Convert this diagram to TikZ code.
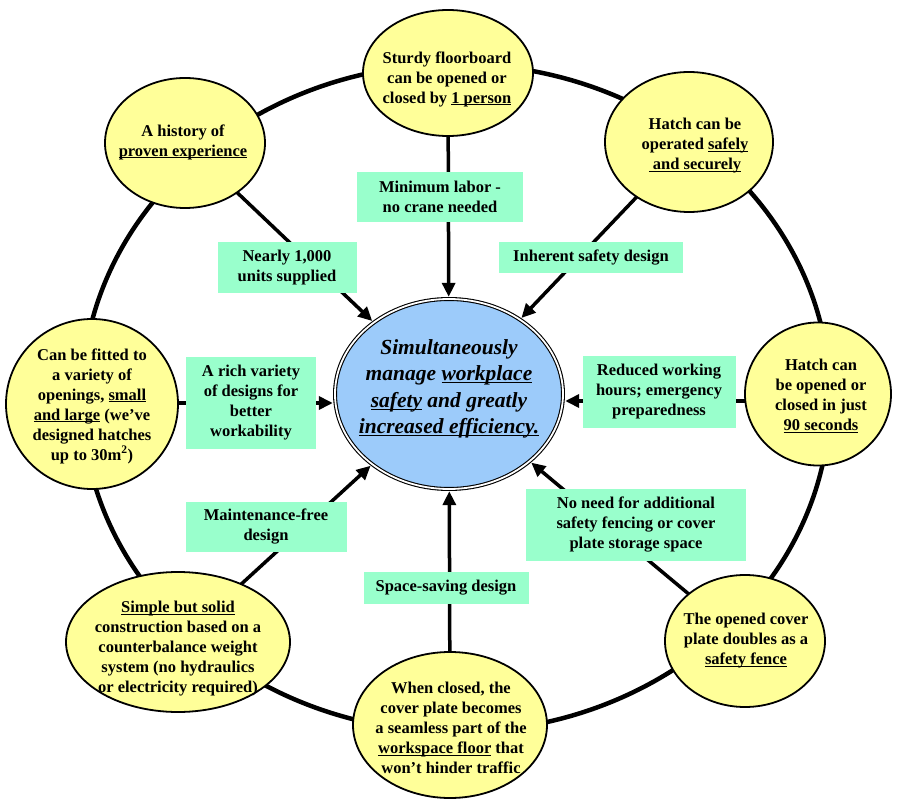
\documentclass[tikz,border=0pt]{standalone}
\usepackage{fontspec}
\setmainfont{Liberation Serif}
\usetikzlibrary{shapes.geometric,arrows.meta}
\definecolor{yel}{HTML}{FFFF99}
\definecolor{mint}{HTML}{99FFCC}
\definecolor{cblue}{HTML}{9CCBFA}
\newcommand{\myul}[1]{\leavevmode\setbox0\hbox{#1}\rlap{\rule[-2.2pt]{\wd0}{0.9pt}}\box0\relax}
\begin{document}
\begin{tikzpicture}[x=1pt,y=-1pt,
 oval/.style={ellipse, draw=black, line width=1.8pt, fill=yel, inner sep=0pt, outer sep=0pt},
 txt/.style={align=center, font=\fontsize{16.5}{20}\selectfont\bfseries, inner sep=0pt},
 box/.style={rectangle, fill=mint, inner sep=0pt, align=center, font=\fontsize{16.5}{20}\selectfont\bfseries},
 conn/.style={line width=3.5pt, -{Triangle[length=14pt,width=13pt]}},
 rimline/.style={draw=black, line width=4.5pt}]
\useasboundingbox (0,0) rectangle (900,802);
% rim
\node[ellipse, rimline, minimum width=748pt, minimum height=668pt, inner sep=0pt] (R) at (456,398) {};
% outer ellipses
\node[oval, minimum width=170pt, minimum height=126pt] (T)  at (448,73) {};
\node[oval, minimum width=168pt, minimum height=140pt] (TR) at (689,142) {};
\node[oval, minimum width=146pt, minimum height=143pt] (Rt) at (818,394) {};
\node[oval, minimum width=160pt, minimum height=132pt] (BR) at (745,641) {};
\node[oval, minimum width=194pt, minimum height=146pt] (B)  at (450,725) {};
\node[oval, minimum width=224pt, minimum height=140pt] (BL) at (178,642) {};
\node[oval, minimum width=172pt, minimum height=170pt] (L)  at (92,404) {};
\node[oval, minimum width=160pt, minimum height=130pt] (TL) at (185,143) {};
% center
\node[ellipse, draw=black, double=white, double distance=1.8pt, line width=1.1pt, fill=cblue,
      minimum width=228pt, minimum height=190pt, inner sep=0pt, outer sep=2.2pt] (C) at (449,394) {};
% connectors
\draw[conn] (T) -- (C);
\draw[conn] (TR) -- (C);
\draw[conn] (Rt.west |- 0,401) -- (C.east |- 0,401);
\draw[conn] (BR) -- (C);
\draw[conn] (B) -- (C);
\draw[conn] (BL) -- (C);
\draw[conn] (L.east |- 0,403) -- (C.west |- 0,403);
\draw[conn] (TL) -- (C);
% boxes
\node[box, minimum width=166pt, minimum height=50pt] (b1) at (440,197) {Minimum labor -\\no crane needed};
\node[box, minimum width=139pt, minimum height=51pt] (b2) at (287,268) {Nearly 1,000\\units supplied};
\node[box, minimum width=184pt, minimum height=31pt] (b3) at (591,258) {Inherent safety design};
\node[box, minimum width=130pt, minimum height=92pt] (b4) at (251,403) {A rich variety\\of designs for\\better\\workability};
\node[box, minimum width=153pt, minimum height=71pt] (b5) at (659,392) {Reduced working\\hours; emergency\\preparedness};
\node[box, minimum width=161pt, minimum height=50pt] (b6) at (266,527) {Maintenance-free\\design};
\node[box, minimum width=220pt, minimum height=72pt] (b7) at (636,525) {No need for additional\\safety fencing or cover\\plate storage space};
\node[box, minimum width=165pt, minimum height=32pt] (b8) at (446,588) {Space-saving design};
% texts
\node[txt] (tT)  at (447,79)  {Sturdy floorboard\\can be opened or\\closed by \myul{1 person}};
\node[txt] (tTR) at (695,146) {Hatch can be\\operated \myul{safely}\\\myul{\ and securely}};
\node[txt] (tRt) at (821,396) {Hatch can\\be opened or\\closed in just\\\myul{90 seconds}};
\node[txt] (tBR) at (746,641) {The opened cover\\plate doubles as a\\\myul{safety fence}};
\node[txt] (tB)  at (451,728) {When closed, the\\cover plate becomes\\a seamless part of the\\\myul{workspace floor} that\\won’t hinder traffic};
\node[txt] (tBL) at (178,649) {\myul{Simple but solid}\\construction based on a\\counterbalance weight\\system (no hydraulics\\or electricity required)};
\node[txt] (tL)  at (92,406)  {Can be fitted to\\a variety of\\openings, \myul{small}\\\myul{and large} (we’ve\\designed hatches\\up to 30m\textsuperscript{2})};
\node[txt] (tTL) at (183,142) {A history of\\\myul{proven experience}};
\node[align=center, inner sep=0pt, font=\fontsize{21.5}{26.5}\selectfont\bfseries\itshape] (tC) at (449,389)
  {Simultaneously\\manage \myul{workplace}\\\myul{safety} and greatly\\\myul{increased efficiency.}};
\end{tikzpicture}
\end{document}
